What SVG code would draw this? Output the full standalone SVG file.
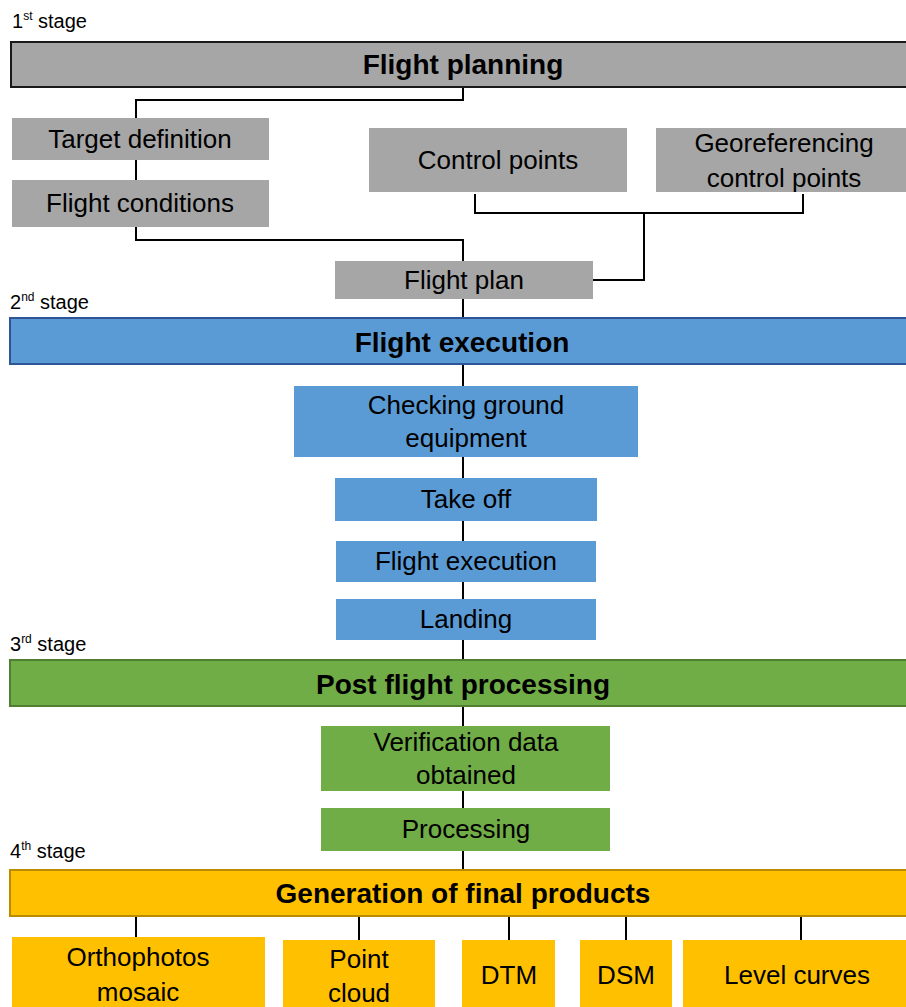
<svg xmlns="http://www.w3.org/2000/svg" width="906" height="1007" viewBox="0 0 906 1007">
<style>
text{font-family:"Liberation Sans",Arial,sans-serif;fill:#000;text-anchor:middle;dominant-baseline:central}
.n{font-size:26px}
.h{font-size:28px;font-weight:bold}
.s{font-size:20px;text-anchor:start;dominant-baseline:auto}
.sup{font-size:12px}
.gray{fill:#a6a6a6}
.blue{fill:#5b9bd5}
.green{fill:#70ad47}
.gold{fill:#ffc000}
.c{fill:none;stroke:#000;stroke-width:2}
</style>
<rect width="906" height="1007" fill="#fff"/>
<text class="s" x="12" y="28">1<tspan class="sup" dy="-8">st</tspan><tspan dy="8"> stage</tspan></text>
<text class="s" x="10" y="309">2<tspan class="sup" dy="-8">nd</tspan><tspan dy="8"> stage</tspan></text>
<text class="s" x="10" y="651">3<tspan class="sup" dy="-8">rd</tspan><tspan dy="8"> stage</tspan></text>
<text class="s" x="10" y="858">4<tspan class="sup" dy="-8">th</tspan><tspan dy="8"> stage</tspan></text>
<g id="connectors">
<path class="c" d="M463,87 V100 H136 V118"/>
<path class="c" d="M136,160 V180"/>
<path class="c" d="M136,227 V240 H463 V261"/>
<path class="c" d="M475,194 V213 H803 V194"/>
<path class="c" d="M644,213 V280 H593"/>
<path class="c" d="M463,299 V318"/>
<path class="c" d="M463,364 V386"/>
<path class="c" d="M463,457 V478"/>
<path class="c" d="M463,521 V541"/>
<path class="c" d="M463,582 V599"/>
<path class="c" d="M463,640 V660"/>
<path class="c" d="M463,706 V726"/>
<path class="c" d="M463,791 V808"/>
<path class="c" d="M463,851 V870"/>
<path class="c" d="M136,916 V937"/>
<path class="c" d="M359,916 V940"/>
<path class="c" d="M509,916 V940"/>
<path class="c" d="M626,916 V940"/>
<path class="c" d="M801,916 V940"/>
</g>
<g id="flight-planning"><rect x="11" y="42" width="900" height="45" class="gray" stroke="#1a1a1a" stroke-width="2"/><text class="h" x="463" y="64">Flight planning</text></g>
<g id="target-definition"><rect x="12" y="118" width="257" height="42" class="gray"/><text class="n" x="140" y="139">Target definition</text></g>
<g id="flight-conditions"><rect x="12" y="180" width="257" height="47" class="gray"/><text class="n" x="140" y="203">Flight conditions</text></g>
<g id="control-points"><rect x="369" y="128" width="258" height="64" class="gray"/><text class="n" x="498" y="160">Control points</text></g>
<g id="georeferencing"><rect x="656" y="128" width="255" height="64" class="gray"/><text class="n" x="784" y="143">Georeferencing</text><text class="n" x="784" y="178">control points</text></g>
<g id="flight-plan"><rect x="335" y="261" width="258" height="38" class="gray"/><text class="n" x="464" y="280">Flight plan</text></g>
<g id="flight-execution-stage"><rect x="10" y="318" width="901" height="46" class="blue" stroke="#2f5597" stroke-width="2"/><text class="h" x="462" y="342">Flight execution</text></g>
<g id="checking"><rect x="294" y="386" width="344" height="71" class="blue"/><text class="n" x="466" y="405">Checking ground</text><text class="n" x="466" y="438">equipment</text></g>
<g id="take-off"><rect x="335" y="478" width="262" height="43" class="blue"/><text class="n" x="466" y="499">Take off</text></g>
<g id="flight-execution"><rect x="336" y="541" width="260" height="41" class="blue"/><text class="n" x="466" y="561">Flight execution</text></g>
<g id="landing"><rect x="336" y="599" width="260" height="41" class="blue"/><text class="n" x="466" y="619">Landing</text></g>
<g id="post-flight"><rect x="10" y="660" width="901" height="46" class="green" stroke="#507e32" stroke-width="2"/><text class="h" x="463" y="684">Post flight processing</text></g>
<g id="verification"><rect x="321" y="726" width="289" height="65" class="green"/><text class="n" x="466" y="742">Verification data</text><text class="n" x="466" y="775">obtained</text></g>
<g id="processing"><rect x="321" y="808" width="289" height="43" class="green"/><text class="n" x="466" y="829">Processing</text></g>
<g id="generation"><rect x="10" y="870" width="901" height="46" class="gold" stroke="#bc8c00" stroke-width="2"/><text class="h" x="463" y="893">Generation of final products</text></g>
<g id="orthophotos"><rect x="12" y="937" width="253" height="75" class="gold"/><text class="n" x="138" y="957">Orthophotos</text><text class="n" x="138" y="992">mosaic</text></g>
<g id="point-cloud"><rect x="283" y="940" width="152" height="72" class="gold"/><text class="n" x="359" y="959">Point</text><text class="n" x="359" y="993">cloud</text></g>
<g id="dtm"><rect x="462" y="940" width="93" height="72" class="gold"/><text class="n" x="509" y="975">DTM</text></g>
<g id="dsm"><rect x="580" y="940" width="92" height="72" class="gold"/><text class="n" x="626" y="975">DSM</text></g>
<g id="level-curves"><rect x="683" y="940" width="228" height="72" class="gold"/><text class="n" x="797" y="975">Level curves</text></g>
</svg>
